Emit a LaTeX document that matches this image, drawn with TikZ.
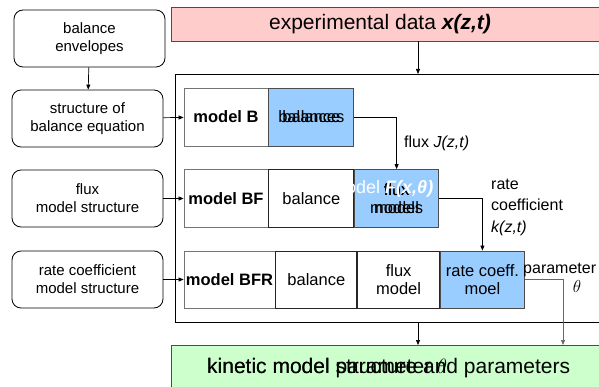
\documentclass[tikz,border=0pt]{standalone}
\usepackage{fontspec}
\setmainfont{Liberation Sans}
\usetikzlibrary{arrows.meta, positioning}
\definecolor{datapink}{RGB}{255,204,204}
\definecolor{activeblue}{RGB}{153,204,255}
\definecolor{resultgreen}{RGB}{204,255,204}
\tikzset{
  srcbox/.style={draw=black, rounded corners=9pt, line width=0.8pt,
                 minimum width=151pt, minimum height=57pt, inner sep=0pt,
                 align=center, font=\fontsize{15}{18}\selectfont},
  modelbox/.style={draw=black!55, line width=0.8pt, minimum height=58pt,
                 inner sep=0pt, align=center,
                 font=\bfseries\fontsize{16.5}{18}\selectfont},
  partbox/.style={draw=black!85, fill=white, line width=0.8pt,
                 minimum height=58pt, inner sep=0pt, align=center,
                 font=\fontsize{16.5}{18}\selectfont},
  activebox/.style={partbox, fill=activeblue, draw=black!70},
  ghost/.style={inner sep=0pt, align=center, font=\fontsize{16.5}{18}\selectfont},
  note/.style={inner sep=0pt, align=left, font=\fontsize{16}{21.5}\selectfont},
  bigtext/.style={inner sep=0pt, font=\fontsize{21}{24}\selectfont},
  flow/.style={line width=0.7pt, -{Triangle[length=5pt,width=4pt]}},
}

\begin{document}
\begin{tikzpicture}[x=1pt, y=-1pt]
    \useasboundingbox (0,0) rectangle (599,387);
    \clip (0,0) rectangle (599,387);

    %% inputs on the left
    \node[srcbox] (env)     at (89.5,38.5)  {balance\\envelopes};
    \node[srcbox] (bstruct) at (87.5,118.5) {structure of\\balance equation};
    \node[srcbox] (fstruct) at (87.5,198.5) {flux\\model structure};
    \node[srcbox] (rstruct) at (87.5,279.5) {rate coefficient\\model structure};

    %% data bar on top, result bar below (both run off to the right)
    \node[draw=black!70, fill=datapink, line width=0.8pt, inner sep=0pt,
          minimum width=440pt, minimum height=34pt, anchor=west] (data) at (171,24) {};
    \node[bigtext] (datatext) at (380,24) {experimental data \textbf{\textit{x(z,t)}}};
    \node[draw=black!70, fill=resultgreen, line width=0.8pt, inner sep=0pt,
          minimum width=440pt, minimum height=50pt, anchor=north west] (result) at (171,345) {};
    \node[bigtext, anchor=west] (restext)  at (207,368) {kinetic model structure and parameters};
    \node[bigtext, anchor=west] (restextb) at (207,368) {kinetic model parameter $\theta$};

    %% frame round the model rows
    \node[draw=black, line width=0.9pt, inner sep=0pt, minimum width=440pt,
          minimum height=248pt, anchor=north west] (frame) at (175,74) {};

    %% row B
    \node[modelbox, minimum width=84pt] (mB) at (226,117) {model B};
    \node[activebox, minimum width=85pt, right=0pt of mB] (balB) {balances};
    \node[ghost] at (balB) {balance};

    %% row BF
    \node[modelbox, minimum width=84pt] (mBF) at (226,198.5) {model BF};
    \node[partbox, minimum width=85pt, right=0pt of mBF] (balBF) {balance};
    \node[activebox, minimum width=84pt, right=0pt of balBF] (fluxBF) {flux\\models};
    \node[ghost] at (fluxBF) {flux\\model};
    \node[ghost, text=white, anchor=west, font=\fontsize{18}{20}\selectfont]
      (fluxfn) at (331,189) {model \textbf{\textit{F(x,θ)}}};

    %% row BFR
    \node[modelbox, minimum width=91pt, minimum height=57pt] (mBFR) at (229.5,279.5) {model BFR};
    \node[partbox, minimum width=81pt, minimum height=57pt, right=0pt of mBFR] (balBFR) {balance};
    \node[partbox, minimum width=82pt, minimum height=57pt, right=0pt of balBFR] (fluxBFR) {flux\\model};
    \node[activebox, minimum width=84pt, minimum height=57pt, right=0pt of fluxBFR] (rateBFR) {rate coeff.\\moel};

    %% labels on the links
    \node[note, anchor=west] (fluxlbl)  at (404,143) {flux \textit{J(z,t)}};
    \node[note, anchor=west] (ratelbl)  at (491,207) {rate\\coefficient\\\textit{k(z,t)}};
    \node[note, anchor=west] (paramlbl) at (523,270) {parameter};
    \node[inner sep=0pt, font=\fontsize{18}{20}\selectfont] (thetalbl) at (577,286) {$\theta$};

    %% links
    \coordinate (datain)  at (418,74);
    \coordinate (resin)   at (418,345);
    \coordinate (paramin) at (563,345);
    \draw[flow] (env) -- (bstruct);
    \draw[flow] (bstruct) -- (mB);
    \draw[flow] (fstruct) -- (mBF);
    \draw[flow] (rstruct) -- (mBFR);
    \draw[flow] (datain |- data.south) -- (datain);
    \draw[flow] (resin |- frame.south) -- (resin);
    \draw[flow] (balB.east) -| (fluxBF.north);
    \draw[flow] (fluxBF.east) -| (rateBFR.north);
    \draw[flow, draw=black!60] (rateBFR.east) -| (paramin);
\end{tikzpicture}
\end{document}
